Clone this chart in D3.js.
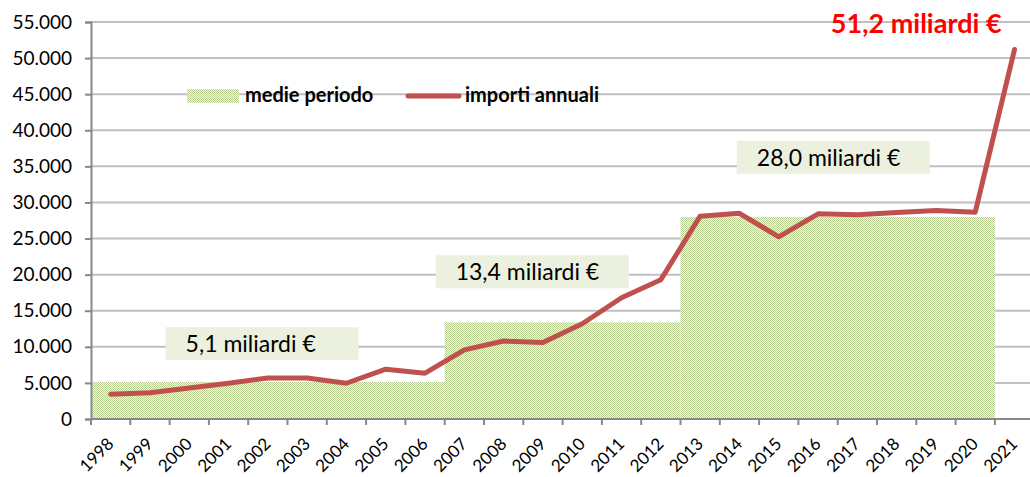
<!DOCTYPE html>
<html>
<head>
<meta charset="utf-8">
<script src="https://cdn.jsdelivr.net/npm/d3@7"></script>
<style>
  body { margin: 0; background: #fff; }
  svg { display: block; font-family: Lato, "Open Sans", sans-serif; }
</style>
</head>
<body>
<svg id="chart" width="1030" height="477"></svg>
<script>
// anni e importi annuali (milioni di euro)
const years = ["1998","1999","2000","2001","2002","2003","2004","2005","2006","2007","2008","2009",
               "2010","2011","2012","2013","2014","2015","2016","2017","2018","2019","2020","2021"];
const importi = [3430, 3650, 4300, 4950, 5690, 5690, 4950, 6900, 6350, 9580, 10800, 10600,
                 13200, 16800, 19300, 28100, 28500, 25240, 28430, 28290, 28600, 28900, 28650, 51200];

// medie per periodo
const periodStart = ["1998", "2007", "2013"];
const periodEnd = ["2006", "2012", "2020"];
const periodMean = [5100, 13400, 28000];
const periodLabels = ["5,1 miliardi €", "13,4 miliardi €", "28,0 miliardi €"];

const yTicks = [0, 5000, 10000, 15000, 20000, 25000, 30000, 35000, 40000, 45000, 50000, 55000];
const lastLabel = "51,2 miliardi €";
const legendLabels = ["medie periodo", "importi annuali"];

const svg = d3.select("#chart");
const plotLeft = 91, plotBottom = 419, plotTop = 22;

const x = d3.scaleBand().domain(years).range([plotLeft, plotLeft + 24 * 39.3]).paddingInner(0).paddingOuter(0);
const y = d3.scaleLinear().domain([0, 55000]).range([plotBottom, plotTop]);

/*pattern puntinato per le medie*/
const defs = svg.append("defs");
const pat = defs.append("pattern")
    .attr("id", "dots")
    .attr("patternUnits", "userSpaceOnUse")
    .attr("width", 2).attr("height", 2);
pat.append("rect").attr("width", 2).attr("height", 2).attr("fill", "#f5f8ef");
pat.append("rect").attr("x", 0).attr("y", 0).attr("width", 1).attr("height", 1).attr("fill", "#b8d090");
pat.append("rect").attr("x", 1).attr("y", 1).attr("width", 1).attr("height", 1).attr("fill", "#b8d090");

// griglia
svg.append("g")
    .selectAll("line.grid")
    .data(yTicks.filter(d => d > 0))
    .enter().append("line")
        .attr("class", "grid")
        .attr("x1", plotLeft).attr("x2", 1030)
        .attr("y1", d => y(d)).attr("y2", d => y(d))
        .attr("stroke", "#c0c0c0")
        .attr("stroke-width", 2);

// aree medie periodo
svg.append("g")
    .selectAll("rect.mean")
    .data(periodMean)
    .enter().append("rect")
        .attr("class", "mean")
        .attr("x", (d, i) => x(periodStart[i]))
        .attr("width", (d, i) => x(periodEnd[i]) + x.bandwidth() - x(periodStart[i]))
        .attr("y", d => y(d))
        .attr("height", d => plotBottom - y(d))
        .attr("fill", "url(#dots)");

// asse y
const yAxis = d3.axisLeft(y).tickValues(yTicks).tickSize(6).tickPadding(13)
    .tickFormat(d => d === 0 ? "0" : d3.format(",")(d).replace(/,/g, "."));
const gy = svg.append("g").attr("transform", `translate(${plotLeft},0)`).call(yAxis);
gy.select(".domain").attr("stroke", "#888").attr("stroke-width", 2);
gy.selectAll(".tick line").attr("stroke", "#888").attr("stroke-width", 2);
gy.selectAll(".tick text").attr("font-size", 19).attr("fill", "#000").attr("font-family", "Lato");

// asse x con tacche tra le categorie
const gx = svg.append("g").attr("transform", `translate(0,${plotBottom})`);
gx.append("line")
    .attr("x1", plotLeft).attr("x2", 1030)
    .attr("stroke", "#888").attr("stroke-width", 2);
gx.selectAll("line.tick")
    .data(years)
    .enter().append("line")
        .attr("class", "tick")
        .attr("x1", d => x(d)).attr("x2", d => x(d))
        .attr("y1", 0).attr("y2", 6)
        .attr("stroke", "#888").attr("stroke-width", 2);
gx.selectAll("text.year")
    .data(years)
    .enter().append("text")
        .attr("class", "year")
        .attr("transform", d => `translate(${x(d) + x.bandwidth() / 2 + 4},${26}) rotate(-45)`)
        .attr("text-anchor", "end")
        .attr("font-size", 17)
        .attr("fill", "#000")
        .text(d => d);

// linea importi annuali
const line = d3.line()
    .x((d, i) => x(years[i]) + x.bandwidth() / 2)
    .y(d => y(d));
svg.append("path")
    .datum(importi)
    .attr("d", line)
    .attr("fill", "none")
    .attr("stroke", "#c0504d")
    .attr("stroke-width", 5)
    .attr("stroke-linejoin", "round")
    .attr("stroke-linecap", "round");

// etichette medie
const boxX = [x("2000") - 4, x("2007") - 9, x("2014") + 17];
const boxY = [y(periodMean[0]) - 55, y(periodMean[1]) - 67, y(periodMean[2]) - 76];
const labels = svg.append("g");
periodLabels.forEach((t, i) => {
    labels.append("rect")
        .attr("x", boxX[i]).attr("y", boxY[i])
        .attr("width", 193).attr("height", 33)
        .attr("fill", "#ebf1de");
    labels.append("text")
        .attr("x", boxX[i] + 20).attr("y", boxY[i] + 25)
        .attr("font-size", 23)
        .attr("fill", "#000")
        .text(t);
});

// etichetta ultimo anno
svg.append("text")
    .attr("x", x("2021") + x.bandwidth() / 2 - 13)
    .attr("y", y(importi[23]) - 16)
    .attr("text-anchor", "end")
    .attr("font-size", 27)
    .attr("font-weight", "bold")
    .attr("fill", "#ff0000")
    .text(lastLabel);

// legenda
const lg = svg.append("g");
lg.append("rect").attr("x", 187).attr("y", 89).attr("width", 52).attr("height", 14).attr("fill", "url(#dots)");
lg.append("text").attr("x", 245).attr("y", 102).attr("font-size", 20).attr("font-weight", "bold").text(legendLabels[0]);
lg.append("line").attr("x1", 408).attr("x2", 459).attr("y1", 96).attr("y2", 96)
    .attr("stroke", "#c0504d").attr("stroke-width", 5).attr("stroke-linecap", "round");
lg.append("text").attr("x", 465).attr("y", 102).attr("font-size", 20).attr("font-weight", "bold").text(legendLabels[1]);
</script>
</body>
</html>
